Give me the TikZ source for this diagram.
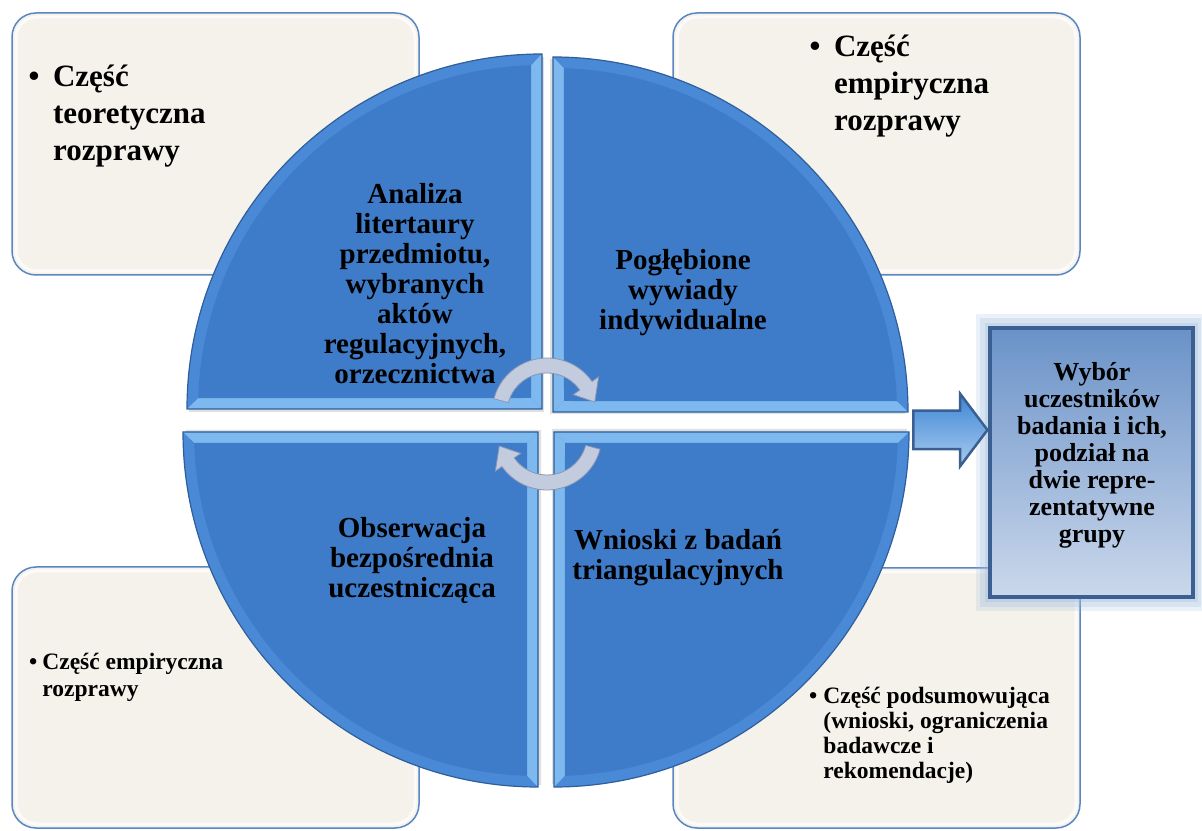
\documentclass[tikz,border=0pt]{standalone}
\usepackage{fontspec}
\setmainfont{Liberation Serif}
\usetikzlibrary{shapes.arrows}

\definecolor{cream}{HTML}{F4F2EA}
\definecolor{frameblue}{HTML}{5A86C2}
\definecolor{quadrim}{HTML}{4A89D6}
\definecolor{quadblue}{HTML}{3E7CC9}
\definecolor{quadlight}{HTML}{7DB9EE}
\definecolor{quaddark}{HTML}{2E5E9C}
\definecolor{cyclegray}{HTML}{C3CBDE}
\definecolor{cycleedge}{HTML}{8A96B4}
\definecolor{boxedge}{HTML}{3B5F90}
\definecolor{boxtop}{HTML}{6A92C8}
\definecolor{boxbottom}{HTML}{CBD8EB}
\definecolor{glowblue}{HTML}{9DB8DD}
\definecolor{pointertop}{HTML}{3D86D6}
\definecolor{pointerbottom}{HTML}{A9CBEE}

\tikzset{
  panel/.style={draw=frameblue, line width=1.5pt, fill=cream, rounded corners=24pt},
  panel gloss/.style={draw=white, line width=3pt, opacity=0.75, rounded corners=21pt},
  bigtext/.style={font=\fontsize{31}{37}\selectfont\bfseries, inner sep=0pt, anchor=north west},
  smalltext/.style={font=\fontsize{23.5}{27}\selectfont\bfseries, inner sep=0pt, anchor=north west},
  quadtext/.style={font=\fontsize{29}{30}\selectfont\bfseries, align=center, inner sep=0pt},
  cyclearrow/.style={fill=cyclegray, draw=cycleedge, line width=0.8pt},
  selection/.style={draw=boxedge, line width=3.5pt, top color=boxtop, bottom color=boxbottom,
    minimum width=203pt, minimum height=269pt, inner sep=0pt},
  selectiontext/.style={font=\fontsize{26}{27}\selectfont\bfseries, align=center, inner sep=0pt},
  pointer/.style={single arrow, draw=boxedge, line width=2.5pt, top color=pointertop, bottom color=pointerbottom,
    inner xsep=0pt, inner ysep=18pt, minimum height=74pt, single arrow head extend=17pt, single arrow tip angle=106}
}

\begin{document}
\begin{tikzpicture}[x=1pt,y=1pt]
\useasboundingbox (0,0) rectangle (1202,830);

\draw[panel] (12,555) rectangle (419,817);
\draw[panel] (673,555) rectangle (1080,817);
\draw[panel] (12,2) rectangle (419,263);
\draw[panel] (673,2) rectangle (1080,262);
\draw[panel gloss] (16,559) rectangle (415,813);
\draw[panel gloss] (677,559) rectangle (1076,813);
\draw[panel gloss] (16,6) rectangle (415,259);
\draw[panel gloss] (677,6) rectangle (1076,258);

\node[bigtext] (theory) at (28.5,770) {\begin{tabular}{@{}l@{\hspace{13.5pt}}l@{}}\textbullet & Część\\ & teoretyczna\\ & rozprawy\end{tabular}};
\node[bigtext] (empirical) at (809.5,800) {\begin{tabular}{@{}l@{\hspace{13.5pt}}l@{}}\textbullet & Część\\ & empiryczna\\ & rozprawy\end{tabular}};
\node[smalltext] (empirical small) at (29,180) {\begin{tabular}{@{}l@{\hspace{5pt}}l@{}}\textbullet & Część empiryczna\\ & rozprawy\end{tabular}};
\node[smalltext, font=\fontsize{23.5}{25}\selectfont\bfseries] (summary) at (809,144) {\begin{tabular}{@{}l@{\hspace{6pt}}l@{}}\textbullet & Część podsumowująca\\ & (wnioski, ograniczenia\\ & badawcze i\\ & rekomendacje)\end{tabular}};

\foreach \cx/\cy/\turn in {542/421/0, 553/418/-90, 538/398/90, 554/398/180}{
  \begin{scope}[shift={(\cx,\cy)}, rotate=\turn]
    \fill[black, opacity=0.12] (2,-3) -- (-353,-3) arc[start angle=180, end angle=90, radius=355] -- cycle;
    \fill[quadrim] (0,0) -- (-355,0) arc[start angle=180, end angle=90, radius=355] -- cycle;
    \fill[quadlight] (0,0) -- (-355,0) -- (178.2:344) -- (-11,11) -- cycle;
    \fill[quadlight] (0,0) -- (0,355) -- (91.8:344) -- (-11,11) -- cycle;
    \fill[quadblue] (-11,11) -- (178.2:344) arc[start angle=178.2, end angle=91.8, radius=344] -- cycle;
    \draw[quaddark, line width=1.2pt] (0,0) -- (-355,0) arc[start angle=180, end angle=90, radius=355] -- cycle;
  \end{scope}
}

\node[quadtext] (literature) at (415,546) {Analiza\\litertaury\\przedmiotu,\\wybranych\\aktów\\regulacyjnych,\\orzecznictwa};
\node[quadtext] (interviews) at (683,537) {Pogłębione\\wywiady\\indywidualne};
\node[quadtext] (observation) at (412,270) {Obserwacja\\bezpośrednia\\uczestnicząca};
\node[quadtext] (conclusions) at (678,272) {Wnioski z badań\\triangulacyjnych};

\begin{scope}[shift={(547,417)}]
  \draw[cyclearrow] (165:55) arc[start angle=165, end angle=35, radius=55] -- (35:63) -- (13:49) -- (35:32) -- (35:40) arc[start angle=35, end angle=165, radius=40] -- cycle;
\end{scope}
\begin{scope}[shift={(547,395)}, rotate=180]
  \draw[cyclearrow] (165:55) arc[start angle=165, end angle=35, radius=55] -- (35:63) -- (13:49) -- (35:32) -- (35:40) arc[start angle=35, end angle=165, radius=40] -- cycle;
\end{scope}

\fill[glowblue, opacity=0.2] (976,219) rectangle (1202,516);
\fill[glowblue, opacity=0.25] (980,223) rectangle (1201,512);
\fill[glowblue, opacity=0.3] (985,228) rectangle (1198,507);
\node[selection] (selection) at (1091.5,367.5) {};
\node[selectiontext] (selection text) at (1092,375) {Wybór\\uczestników\\badania i ich,\\podział na\\dwie repre-\\zentatywne\\grupy};
\node[pointer, anchor=tip] (pointer) at (989,400) {};
\end{tikzpicture}
\end{document}
